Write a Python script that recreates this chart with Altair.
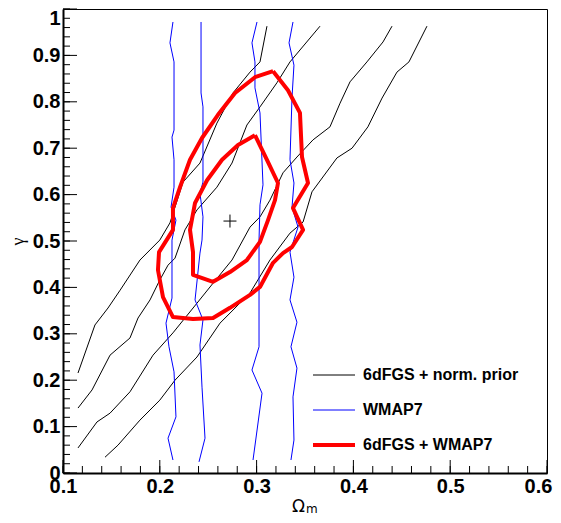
import altair as alt
import pandas as pd

SERIES = ["6dFGS + norm. prior", "WMAP7", "6dFGS + WMAP7"]
COLORS = ["#000000", "#0000ff", "#ff0000"]
WIDTHS = [1, 1, 4]

# 6dFGS + norm. prior contours
blk1_x = [0.1155, 0.133, 0.1465, 0.159, 0.1795, 0.200, 0.2105, 0.224, 0.2415, 0.259, 0.2756, 0.2932, 0.3035, 0.3107]
blk1_y = [0.2155, 0.319, 0.3556, 0.394, 0.459, 0.502, 0.539, 0.627, 0.668, 0.754, 0.819, 0.864, 0.886, 0.963]
blk2_x = [0.1155, 0.130, 0.1486, 0.1692, 0.1775, 0.1899, 0.200, 0.2085, 0.2157, 0.226, 0.2384, 0.259, 0.2746, 0.290, 0.3035, 0.321, 0.3345, 0.3655]
blk2_y = [0.140, 0.179, 0.254, 0.291, 0.334, 0.373, 0.416, 0.448, 0.463, 0.524, 0.567, 0.616, 0.668, 0.750, 0.789, 0.841, 0.886, 0.963]
blk3_x = [0.1155, 0.1351, 0.1486, 0.1692, 0.193, 0.2136, 0.2384, 0.255, 0.2746, 0.2932, 0.3035, 0.3138, 0.3273, 0.3417, 0.3583, 0.3758, 0.3862, 0.3965, 0.414, 0.4306, 0.4399]
blk3_y = [0.054, 0.110, 0.129, 0.175, 0.254, 0.302, 0.366, 0.409, 0.459, 0.530, 0.552, 0.588, 0.647, 0.681, 0.718, 0.746, 0.797, 0.843, 0.886, 0.929, 0.963]
blk4_x = [0.1434, 0.1568, 0.1795, 0.200, 0.2157, 0.2384, 0.2622, 0.2932, 0.3138, 0.3345, 0.348, 0.3572, 0.383, 0.3986, 0.415, 0.4296, 0.445, 0.4574, 0.476]
blk4_y = [0.034, 0.060, 0.114, 0.157, 0.200, 0.250, 0.323, 0.388, 0.459, 0.517, 0.541, 0.606, 0.679, 0.700, 0.746, 0.808, 0.864, 0.886, 0.963]

# WMAP7 contours
blu1_x = [0.2136, 0.2105, 0.2147, 0.2147, 0.2126, 0.2147, 0.2147, 0.2116, 0.2167, 0.2126, 0.2126, 0.2064, 0.2095, 0.2147, 0.2167, 0.2085, 0.2136]
blu1_y = [0.972, 0.927, 0.886, 0.739, 0.724, 0.675, 0.616, 0.573, 0.545, 0.502, 0.377, 0.323, 0.272, 0.218, 0.121, 0.075, 0.028]
blu2_x = [0.2426, 0.2426, 0.2446, 0.2446, 0.2415, 0.2446, 0.2436, 0.2415, 0.2364, 0.2446, 0.2415, 0.2436, 0.2467, 0.2405]
blu2_y = [0.972, 0.819, 0.789, 0.627, 0.603, 0.552, 0.502, 0.474, 0.373, 0.330, 0.276, 0.185, 0.075, 0.024]
blu3_x = [0.3004, 0.2952, 0.2983, 0.2983, 0.3035, 0.3066, 0.3035, 0.3025, 0.3025, 0.2952, 0.3056, 0.2963]
blu3_y = [0.972, 0.927, 0.886, 0.830, 0.776, 0.621, 0.578, 0.502, 0.272, 0.222, 0.172, 0.028]
blu4_x = [0.3376, 0.3335, 0.3386, 0.3366, 0.3345, 0.3386, 0.3366, 0.3428, 0.3345, 0.3386, 0.3345, 0.3417, 0.3355, 0.3417, 0.3376, 0.3386, 0.3355]
blu4_y = [0.972, 0.927, 0.879, 0.810, 0.675, 0.625, 0.573, 0.530, 0.476, 0.422, 0.373, 0.325, 0.272, 0.226, 0.164, 0.071, 0.028]

# 6dFGS + WMAP7 contours
red_out_x = [0.317, 0.3324, 0.3448, 0.3469, 0.3531, 0.3376, 0.348, 0.3366, 0.3273, 0.317, 0.3035, 0.2932, 0.2725, 0.255, 0.2343, 0.2136, 0.2033, 0.1981, 0.1992, 0.2136, 0.2136, 0.2209, 0.2312, 0.2436, 0.2601, 0.2777, 0.2983, 0.317]
red_out_y = [0.866, 0.825, 0.776, 0.681, 0.625, 0.571, 0.524, 0.487, 0.474, 0.453, 0.401, 0.384, 0.356, 0.334, 0.332, 0.336, 0.379, 0.4375, 0.476, 0.524, 0.571, 0.616, 0.675, 0.722, 0.772, 0.819, 0.853, 0.866]
red_in_x = [0.2983, 0.2808, 0.2643, 0.2488, 0.2364, 0.2312, 0.2343, 0.2343, 0.255, 0.2725, 0.290, 0.3035, 0.3118, 0.319, 0.3221, 0.3107, 0.2983]
red_in_y = [0.728, 0.707, 0.675, 0.631, 0.582, 0.524, 0.476, 0.427, 0.412, 0.433, 0.459, 0.498, 0.545, 0.588, 0.625, 0.675, 0.728]

# best fit
best_x = [0.2725]
best_y = [0.543]

# axis ticks
x_labels = [0.1, 0.2, 0.3, 0.4, 0.5, 0.6]
y_labels = [0, 0.1, 0.2, 0.3, 0.4, 0.5, 0.6, 0.7, 0.8, 0.9, 1.0]
x_minor = [round(0.1 + 0.02 * i, 3) for i in range(26)]
y_minor = [round(0.02 * i, 3) for i in range(51)]
x_sub = ["m"]

contours = [
    (SERIES[0], "b1", blk1_x, blk1_y), (SERIES[0], "b2", blk2_x, blk2_y),
    (SERIES[0], "b3", blk3_x, blk3_y), (SERIES[0], "b4", blk4_x, blk4_y),
    (SERIES[1], "w1", blu1_x, blu1_y), (SERIES[1], "w2", blu2_x, blu2_y),
    (SERIES[1], "w3", blu3_x, blu3_y), (SERIES[1], "w4", blu4_x, blu4_y),
    (SERIES[2], "r1", red_out_x, red_out_y), (SERIES[2], "r2", red_in_x, red_in_y),
]
rows = []
for s, c, xs_, ys_ in contours:
    for i, (a, b) in enumerate(zip(xs_, ys_)):
        rows.append({"series": s, "contour": c, "idx": i, "x": a, "y": b})
df = pd.DataFrame(rows)

W, H = 484, 464
xs = alt.Scale(domain=[0.1, 0.6], nice=False, zero=False)
ys = alt.Scale(domain=[0, 1], nice=False, zero=False)
cs = alt.Scale(domain=SERIES, range=COLORS)

LF = "Liberation Sans"
xaxis = alt.Axis(values=x_labels, format=".1f", ticks=False, grid=False,
                 domainColor="black", domainWidth=2,
                 labelFont=LF, labelFontWeight="bold", labelFontSize=20, labelColor="black",
                 labelPadding=3, labelFlush=False, labelOverlap=False,
                 labelOffset={"condition": {"test": "datum.value > 0.55", "value": -9}, "value": 0},
                 titleFont="DejaVu Sans", titleFontSize=17, titleFontWeight="normal", titleColor="black",
                 titleX=W / 2 - 7, titleY=38, titleBaseline="alphabetic", titleAlign="center")
yaxis = alt.Axis(values=y_labels, format="~g", ticks=False, grid=False,
                 domainColor="black", domainWidth=2,
                 labelFont=LF, labelFontWeight="bold", labelFontSize=20, labelColor="black",
                 labelPadding=3, labelFlush=False, labelOverlap=False,
                 labelBaseline={"condition": {"test": "datum.value >= 1", "value": "top"}, "value": "middle"},
                 labelOffset={"condition": {"test": "datum.value >= 1", "value": -1}, "value": 0},
                 titleFont="Liberation Serif", titleFontSize=18, titleFontWeight="normal", titleColor="black",
                 titleX=-45, titleY=H / 2, titleAngle=270, titleBaseline="middle", titleAlign="center")

XT, YT = "Ω", "γ"

def X(f):
    return alt.X(f, scale=xs, axis=xaxis, title=XT)

def Y(f):
    return alt.Y(f, scale=ys, axis=yaxis, title=YT)

RED = SERIES[2]

lines = alt.Chart(df).mark_line(strokeJoin="round").encode(
    x=X("x:Q"), y=Y("y:Q"),
    color=alt.Color("series:N", scale=cs, legend=None),
    strokeWidth=alt.condition(f"datum.series === '{RED}'", alt.value(4), alt.value(1)),
    detail="contour:N",
    order="idx:Q",
)

best = alt.Chart(pd.DataFrame({"x": best_x, "y": best_y})).mark_point(
    shape="M-1,0L1,0M0,-1L0,1", size=169, filled=False, stroke="black", strokeWidth=1, opacity=1
).encode(x=X("x:Q"), y=Y("y:Q"))

sub = alt.Chart(pd.DataFrame({"t": x_sub})).mark_text(
    font="DejaVu Sans", fontSize=12, color="black", align="left", baseline="alphabetic"
).encode(text="t:N", x=alt.value(W / 2 + 1), y=alt.value(H + 40))

# legend (drawn as marks inside the frame)
legend_layers = []
for i, (s, w) in enumerate(zip(SERIES, WIDTHS)):
    ly = 366 + 35 * i
    ldf = pd.DataFrame({"series": [s]})
    legend_layers.append(
        alt.Chart(ldf).mark_rule(strokeWidth=w).encode(
            x=alt.value(250), x2=alt.value(292), y=alt.value(ly),
            color=alt.Color("series:N", scale=cs, legend=None)))
    legend_layers.append(
        alt.Chart(ldf).mark_text(font=LF, fontWeight="bold", fontSize=16, color="black",
                                 align="left", baseline="middle").encode(
            text="series:N", x=alt.value(300), y=alt.value(ly)))

ymaj = alt.Chart(pd.DataFrame({"v": y_labels})).mark_rule(color="black", strokeWidth=1).encode(
    y=Y("v:Q"), x=alt.value(0), x2=alt.value(14))
ymin = alt.Chart(pd.DataFrame({"v": y_minor})).mark_rule(color="black", strokeWidth=1).encode(
    y=Y("v:Q"), x=alt.value(0), x2=alt.value(7))
xmaj = alt.Chart(pd.DataFrame({"v": x_labels})).mark_rule(color="black", strokeWidth=1).encode(
    x=X("v:Q"), y=alt.value(H), y2=alt.value(H - 13))
xmin = alt.Chart(pd.DataFrame({"v": x_minor})).mark_rule(color="black", strokeWidth=1).encode(
    x=X("v:Q"), y=alt.value(H), y2=alt.value(H - 7))

chart = alt.layer(ymin, ymaj, xmin, xmaj, lines, best, sub, *legend_layers).properties(
    width=W, height=H, autosize="none",
    padding={"left": 55, "top": 1, "right": 6, "bottom": 42},
    background="white",
).configure_view(stroke="black", strokeWidth=1)

chart.save("out.html", embed_options={"renderer": "svg", "actions": False})
